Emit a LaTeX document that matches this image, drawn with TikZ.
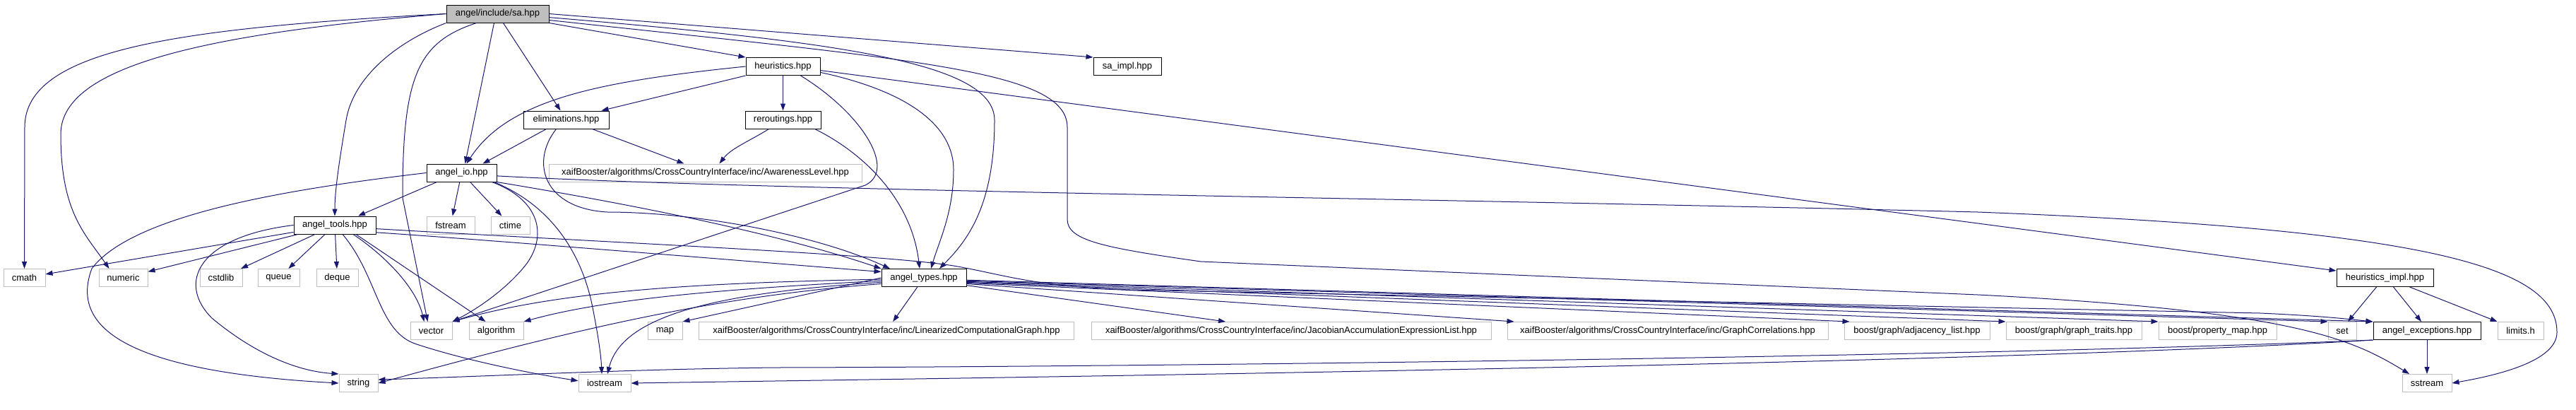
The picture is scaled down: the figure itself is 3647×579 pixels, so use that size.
\documentclass[tikz,border=0pt]{standalone}
\usepackage{fontspec}
\setmainfont{Liberation Sans}
\usetikzlibrary{arrows.meta}
\definecolor{depblue}{HTML}{191970}
\definecolor{extgray}{HTML}{BFBFBF}
\begin{document}
\begin{tikzpicture}[x=1pt, y=-1pt,
    doc/.style={draw=black, line width=1pt, minimum height=25pt, inner xsep=4pt, inner ysep=0pt, font=\fontsize{13}{15}\selectfont},
    ext/.style={doc, draw=extgray},
    root/.style={doc, fill=extgray},
    dep/.style={draw=depblue, line width=1pt, -{Triangle[length=10pt,width=7pt]}}]
    \useasboundingbox (0,0) rectangle (3647,579);
    % Files of the project
    \node[root, minimum width=145pt] (sa) at (704.5,19.5) {angel/include/sa.hpp};
    \node[doc, minimum width=105pt] (heur) at (1108.5,94) {heuristics.hpp};
    \node[doc, minimum width=96pt] (saimpl) at (1596,94) {sa\_impl.hpp};
    \node[doc, minimum width=121pt] (elim) at (801.5,169.5) {eliminations.hpp};
    \node[doc, minimum width=107pt] (rerout) at (1108.5,169.5) {reroutings.hpp};
    \node[doc, minimum width=99pt] (angelio) at (653.5,244.5) {angel\_io.hpp};
    \node[doc, minimum width=116pt] (tools) at (474,318.5) {angel\_tools.hpp};
    \node[doc, minimum width=120pt] (types) at (1308,393) {angel\_types.hpp};
    \node[doc, minimum width=137pt] (heurimpl) at (3376.5,393) {heuristics\_impl.hpp};
    \node[doc, minimum width=152pt] (except) at (3436,468) {angel\_exceptions.hpp};
    % Files outside the project
    \node[ext, minimum width=443pt] (aware) at (998.5,244.5) {xaifBooster/algorithms/CrossCountryInterface/inc/AwarenessLevel.hpp};
    \node[ext, minimum width=68pt] (fstream) at (638,318.5) {fstream};
    \node[ext, minimum width=55pt] (ctime) at (722.5,318.5) {ctime};
    \node[ext, minimum width=59pt] (cmath) at (34.5,393) {cmath};
    \node[ext, minimum width=69pt] (numeric) at (174.5,393) {numeric};
    \node[ext, minimum width=60pt] (cstdlib) at (313,393) {cstdlib};
    \node[ext, minimum width=59pt] (queue) at (394.5,393) {queue};
    \node[ext, minimum width=59pt] (deque) at (477.5,393) {deque};
    \node[ext, minimum width=59pt] (vector) at (610.5,468) {vector};
    \node[ext, minimum width=77pt] (algorithm) at (702.5,468) {algorithm};
    \node[ext, minimum width=49pt] (map) at (941.5,468) {map};
    \node[ext, minimum width=531pt] (lcg) at (1255,468) {xaifBooster/algorithms/CrossCountryInterface/inc/LinearizedComputationalGraph.hpp};
    \node[ext, minimum width=566pt] (jacob) at (1828,468) {xaifBooster/algorithms/CrossCountryInterface/inc/JacobianAccumulationExpressionList.hpp};
    \node[ext, minimum width=454pt] (gcorr) at (2361,468) {xaifBooster/algorithms/CrossCountryInterface/inc/GraphCorrelations.hpp};
    \node[ext, minimum width=206pt] (adjlist) at (2714,468) {boost/graph/adjacency\_list.hpp};
    \node[ext, minimum width=192pt] (gtraits) at (2936,468) {boost/graph/graph\_traits.hpp};
    \node[ext, minimum width=167pt] (propmap) at (3139.5,468) {boost/property\_map.hpp};
    \node[ext, minimum width=40pt] (set) at (3316,468) {set};
    \node[ext, minimum width=65pt] (limits) at (3568.5,468) {limits.h};
    \node[ext, minimum width=55pt] (string) at (507.5,542) {string};
    \node[ext, minimum width=74pt] (iostream) at (856,542) {iostream};
    \node[ext, minimum width=70pt] (sstream) at (3436,542) {sstream};
    % sa.hpp
    \draw[dep] (sa.west) .. controls (250,40) and (35,70) .. (35,180) -- (cmath.north);
    \draw[dep] (sa.west) .. controls (260,50) and (86,100) .. (86,190) .. controls (86,300) and (120,330) .. ([xshift=-20pt]numeric.north);
    \draw[dep] (sa.south west) .. controls (560,60) and (500,110) .. (490,170) .. controls (480,230) and (474,270) .. (tools.north);
    \draw[dep] ([xshift=-30pt]sa.south) .. controls (590,60) and (570,110) .. (570,280) -- ([xshift=-5pt]vector.north);
    \draw[dep] ([xshift=-5pt]sa.south) -- ([xshift=5pt]angelio.north);
    \draw[dep] ([xshift=8pt]sa.south) -- ([xshift=-8pt]elim.north);
    \draw[dep] (sa.south east) -- (heur.north west);
    \draw[dep] (sa.east) -- (saimpl.north west);
    \draw[dep] (sa.-4) .. controls (1200,60) and (1408,90) .. (1408,170) .. controls (1408,290) and (1370,340) .. ([xshift=22pt]types.north);
    \draw[dep] (sa.-7) .. controls (1300,85) and (1511,100) .. (1511,180) -- (1511,310) .. controls (1511,340) and (1560,350) .. (1700,370) -- (2800,417) .. controls (3250,440) and (3330,480) .. ([xshift=-25pt]sstream.north);
    % heuristics.hpp
    \draw[dep] (heur) -- (rerout);
    \draw[dep] (heur.south west) -- ([xshift=50pt]elim.north);
    \draw[dep] (heur.west) .. controls (850,115) and (720,140) .. ([xshift=7pt]angelio.north);
    \draw[dep] (heur.-6) -- ([yshift=-3pt]heurimpl.north west);
    \draw[dep] ([xshift=25pt]heur.south) .. controls (1220,160) and (1270,240) .. (1225,262) -- (vector.north east);
    \draw[dep] (heur.-9) .. controls (1290,130) and (1350,180) .. (1350,240) .. controls (1350,300) and (1330,340) .. ([xshift=10pt]types.north);
    % reroutings.hpp
    \draw[dep] ([xshift=-20pt]rerout.south) .. controls (1060,200) and (1035,210) .. ([xshift=20pt]aware.north);
    \draw[dep] ([xshift=45pt]rerout.south) .. controls (1220,215) and (1290,280) .. ([xshift=-6pt]types.north);
    % eliminations.hpp
    \draw[dep] ([xshift=-28pt]elim.south) -- ([xshift=30pt]angelio.north);
    \draw[dep] ([xshift=37pt]elim.south) -- ([xshift=-30pt]aware.north);
    \draw[dep] ([xshift=-14pt]elim.south) .. controls (750,230) and (770,295) .. (860,300) .. controls (980,300) and (1150,330) .. ([xshift=-48pt]types.north);
    % angel_io.hpp
    \draw[dep] ([xshift=-35pt]angelio.south) -- ([xshift=33pt]tools.north);
    \draw[dep] (angelio) -- (fstream);
    \draw[dep] (angelio) -- (ctime);
    \draw[dep] ([xshift=43pt]angelio.south) .. controls (770,285) and (775,340) .. (740,380) .. controls (710,415) and (670,440) .. (vector.north east);
    \draw[dep] ([xshift=46pt]angelio.south) .. controls (790,295) and (825,370) .. (838,430) .. controls (848,480) and (851,505) .. ([xshift=-4pt]iostream.north);
    \draw[dep] (angelio.west) .. controls (430,265) and (190,300) .. (130,380) .. controls (100,460) and (170,525) .. (string.west);
    \draw[dep] (angelio.-5) .. controls (1100,270) and (2000,280) .. (2800,300) .. controls (3450,325) and (3620,380) .. (3620,470) .. controls (3620,510) and (3540,530) .. (sstream.east);
    \draw[dep] (angelio.south east) .. controls (900,290) and (1100,330) .. (types.north west);
    % angel_tools.hpp
    \draw[dep] (tools) -- (cmath);
    \draw[dep] (tools) -- (numeric);
    \draw[dep] (tools) -- (cstdlib);
    \draw[dep] (tools) -- (queue);
    \draw[dep] (tools) -- (deque);
    \draw[dep] ([xshift=26pt]tools.south) .. controls (550,365) and (590,410) .. ([xshift=-10pt]vector.north);
    \draw[dep] ([xshift=30pt]tools.south) -- ([xshift=-15pt]algorithm.north);
    \draw[dep] ([xshift=11pt]tools.south) .. controls (535,390) and (535,470) .. (590,487) .. controls (660,510) and (750,528) .. (iostream.175);
    \draw[dep] (tools.west) .. controls (280,335) and (250,400) .. (300,450) .. controls (360,500) and (420,525) .. (string.north west);
    \draw[dep] (tools.-10) .. controls (700,340) and (1000,365) .. (types.172);
    \draw[dep] (tools.-5) .. controls (900,345) and (1250,360) .. (1350,376) .. controls (1420,388) and (1460,405) .. (1600,410) -- (3200,443) .. controls (3290,447) and (3330,452) .. (except.north west);
    % angel_types.hpp
    \draw[dep] (types.west) -- (map.north east);
    \draw[dep] (types.182) .. controls (1000,400) and (800,410) .. (vector.north east);
    \draw[dep] (types.184) .. controls (1000,410) and (850,425) .. (algorithm.north east);
    \draw[dep] (types.186) .. controls (1000,415) and (880,450) .. ([xshift=4pt]iostream.north);
    \draw[dep] (types.188) .. controls (1000,420) and (800,470) .. (string.east);
    \draw[dep] (types) -- (lcg);
    \draw[dep] (types.-10) -- ([xshift=-93pt]jacob.north);
    \draw[dep] (types.-8) -- ([xshift=10pt]gcorr.north west);
    \draw[dep] (types.-7) -- ([xshift=8pt]adjlist.north west);
    \draw[dep] (types.-6) -- (gtraits.north west);
    \draw[dep] (types.-5) -- (propmap.north west);
    \draw[dep] (types.-4) -- (set.north west);
    \draw[dep] (types.-3) -- (except.north west);
    % angel_exceptions.hpp
    \draw[dep] (except.south west) .. controls (2800,505) and (1600,519) .. (1100,520) .. controls (900,522) and (700,532) .. (string.10);
    \draw[dep] (except.south west) .. controls (2800,515) and (1500,533) .. (iostream.east);
    \draw[dep] (except) -- (sstream);
    % heuristics_impl.hpp
    \draw[dep] ([xshift=-12pt]heurimpl.south) -- ([xshift=8pt]set.north);
    \draw[dep] ([xshift=12pt]heurimpl.south) -- ([xshift=-8pt]except.north);
    \draw[dep] ([xshift=35pt]heurimpl.south) -- (limits.north west);
\end{tikzpicture}
\end{document}
